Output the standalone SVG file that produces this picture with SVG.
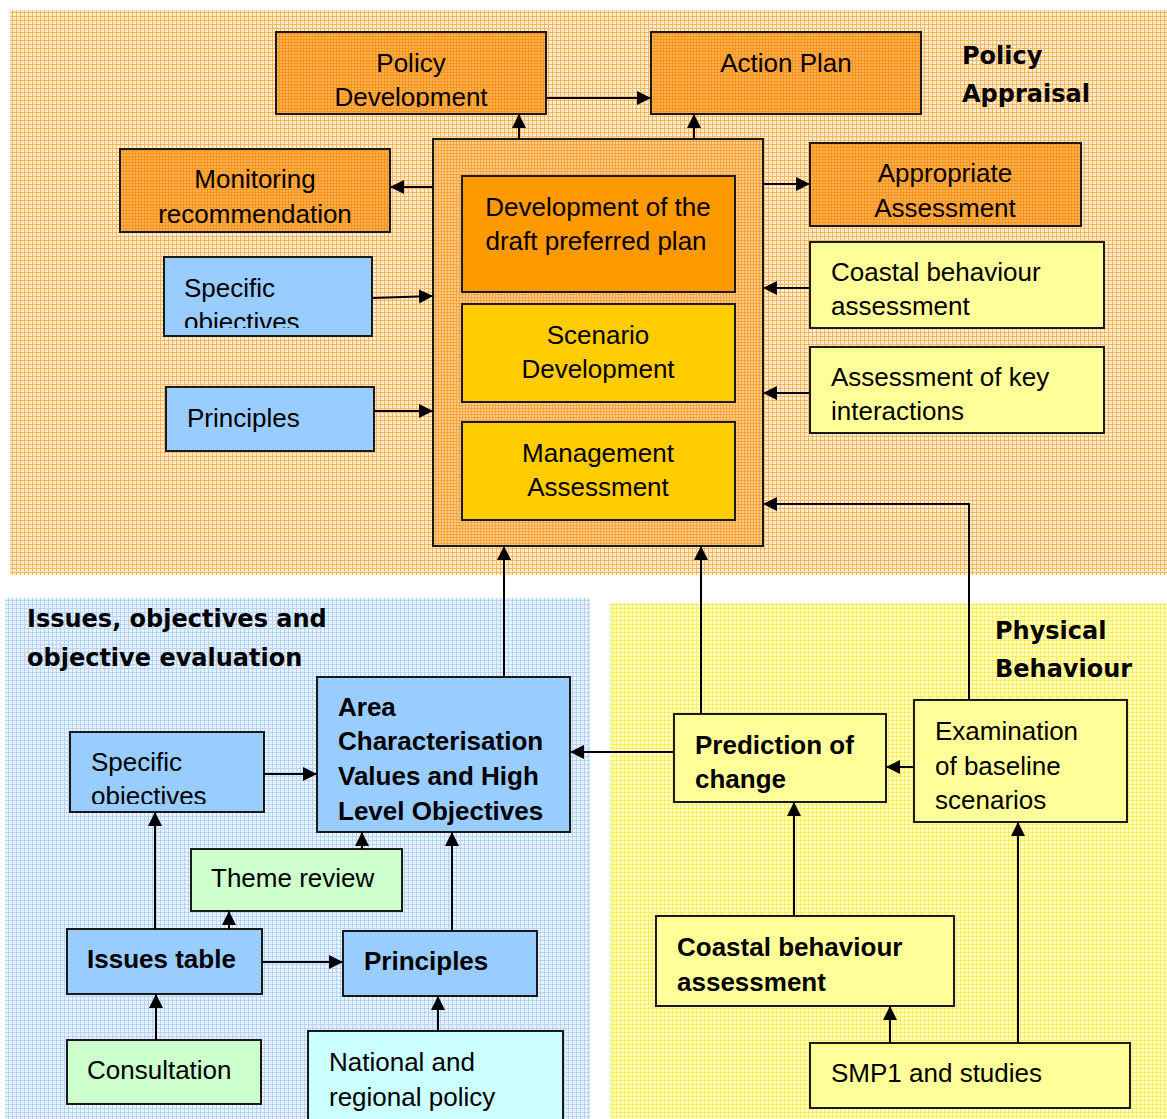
<svg xmlns="http://www.w3.org/2000/svg" width="1167" height="1119" viewBox="0 0 1167 1119">
<style>
.t{font-family:"Liberation Sans",Arial,sans-serif;font-size:26px;fill:#000}
.b{font-weight:bold}
.m{text-anchor:middle}
.lab{font-family:"DejaVu Sans",sans-serif;font-weight:bold;font-size:24px;fill:#000}
.bx{stroke:#1a1a1a;stroke-width:2}
.c{fill:none;stroke:#000;stroke-width:2;marker-end:url(#ah)}
</style>
<defs>
<marker id="ah" markerUnits="userSpaceOnUse" markerWidth="15" markerHeight="15" refX="14" refY="7" orient="auto">
<path d="M0,0 L14,7 L0,14 Z" fill="#000"/>
</marker>
<pattern id="pBgO" width="4" height="4" patternUnits="userSpaceOnUse"><rect width="4" height="4" fill="#FFEBD0"/><path d="M0 0.5H4M0.5 0V4" stroke="#FBB65A" stroke-width="1"/></pattern>
<pattern id="pBgB" width="4" height="4" patternUnits="userSpaceOnUse"><rect width="4" height="4" fill="#E8F2FE"/><path d="M0 0.5H4M0.5 0V4" stroke="#B6D5F6" stroke-width="1"/></pattern>
<pattern id="pBgY" width="4" height="4" patternUnits="userSpaceOnUse"><rect width="4" height="4" fill="#FFFFC0"/><path d="M0 0.5H4M0.5 0V4" stroke="#FFEE5C" stroke-width="1"/></pattern>
<pattern id="pBoxO" width="3" height="3" patternUnits="userSpaceOnUse"><rect width="3" height="3" fill="#FAB04E"/><path d="M0 0.5H3M0.5 0V3" stroke="#F7951F" stroke-width="1"/></pattern>
<pattern id="pCont" width="3" height="3" patternUnits="userSpaceOnUse"><rect width="3" height="3" fill="#FDCB88"/><path d="M0 0.5H3M0.5 0V3" stroke="#F9A53E" stroke-width="1"/></pattern>
<clipPath id="cPD"><rect x="276" y="32" width="270" height="75"/></clipPath>
<clipPath id="cMR"><rect x="120" y="149" width="270" height="74"/></clipPath>
<clipPath id="cAA"><rect x="810" y="143" width="271" height="74"/></clipPath>
<clipPath id="cSO1"><rect x="164" y="257" width="208" height="71"/></clipPath>
<clipPath id="cSO2"><rect x="70" y="732" width="194" height="72"/></clipPath>
</defs>

<g id="backgrounds">
<rect x="10" y="10" width="1157" height="565" fill="url(#pBgO)"/>
<rect x="5" y="598" width="585" height="521" fill="url(#pBgB)"/>
<rect x="610" y="603" width="557" height="516" fill="url(#pBgY)"/>
</g>

<g id="labels">
<text class="lab" x="962" y="64">Policy</text>
<text class="lab" x="962" y="102">Appraisal</text>
<text class="lab" x="27" y="627">Issues, objectives and</text>
<text class="lab" x="27" y="666">objective evaluation</text>
<text class="lab" x="995" y="639">Physical</text>
<text class="lab" x="995" y="677">Behaviour</text>
</g>

<g id="policy-development">
<rect class="bx" x="276" y="32" width="270" height="82" fill="url(#pBoxO)"/>
<g clip-path="url(#cPD)"><text class="t m" x="411" y="72">Policy</text><text class="t m" x="411" y="106">Development</text></g>
</g>
<g id="action-plan">
<rect class="bx" x="651" y="32" width="270" height="82" fill="url(#pBoxO)"/>
<text class="t m" x="786" y="72">Action Plan</text>
</g>
<g id="monitoring">
<rect class="bx" x="120" y="149" width="270" height="83" fill="url(#pBoxO)"/>
<g clip-path="url(#cMR)"><text class="t m" x="255" y="188">Monitoring</text><text class="t m" x="255" y="223">recommendation</text></g>
</g>
<g id="appropriate-assessment">
<rect class="bx" x="810" y="143" width="271" height="83" fill="url(#pBoxO)"/>
<g clip-path="url(#cAA)"><text class="t m" x="945" y="182">Appropriate</text><text class="t m" x="945" y="217">Assessment</text></g>
</g>
<g id="container">
<rect class="bx" x="433" y="139" width="330" height="407" fill="url(#pCont)"/>
</g>
<g id="draft-plan">
<rect class="bx" x="462" y="176" width="273" height="116" fill="#FF9900"/>
<text class="t m" x="598" y="216">Development of the</text>
<text class="t m" x="596" y="250">draft preferred plan</text>
</g>
<g id="scenario-development">
<rect class="bx" x="462" y="304" width="273" height="98" fill="#FFCC00"/>
<text class="t m" x="598" y="344">Scenario</text>
<text class="t m" x="598" y="378">Development</text>
</g>
<g id="management-assessment">
<rect class="bx" x="462" y="422" width="273" height="98" fill="#FFCC00"/>
<text class="t m" x="598" y="462">Management</text>
<text class="t m" x="598" y="496">Assessment</text>
</g>
<g id="coastal-top">
<rect class="bx" x="810" y="242" width="294" height="86" fill="#FFFF99"/>
<text class="t" x="831" y="281">Coastal behaviour</text>
<text class="t" x="831" y="315">assessment</text>
</g>
<g id="key-interactions">
<rect class="bx" x="810" y="347" width="294" height="86" fill="#FFFF99"/>
<text class="t" x="831" y="386">Assessment of key</text>
<text class="t" x="831" y="420">interactions</text>
</g>
<g id="specific-top">
<rect class="bx" x="164" y="257" width="208" height="79" fill="#99CCFF"/>
<g clip-path="url(#cSO1)"><text class="t" x="184" y="297">Specific</text><text class="t" x="184" y="331">objectives</text></g>
</g>
<g id="principles-top">
<rect class="bx" x="166" y="387" width="208" height="64" fill="#99CCFF"/>
<text class="t" x="187" y="427">Principles</text>
</g>

<g id="area-characterisation">
<rect class="bx" x="317" y="677" width="253" height="155" fill="#99CCFF"/>
<text class="t b" x="338" y="716">Area</text>
<text class="t b" x="338" y="750">Characterisation</text>
<text class="t b" x="338" y="785">Values and High</text>
<text class="t b" x="338" y="820">Level Objectives</text>
</g>
<g id="specific-bottom">
<rect class="bx" x="70" y="732" width="194" height="80" fill="#99CCFF"/>
<g clip-path="url(#cSO2)"><text class="t" x="91" y="771">Specific</text><text class="t" x="91" y="805">objectives</text></g>
</g>
<g id="theme-review">
<rect class="bx" x="191" y="849" width="211" height="62" fill="#CCFFCC"/>
<text class="t" x="211" y="887">Theme review</text>
</g>
<g id="issues-table">
<rect class="bx" x="67" y="929" width="195" height="65" fill="#99CCFF"/>
<text class="t b" x="87" y="968">Issues table</text>
</g>
<g id="principles-bottom">
<rect class="bx" x="343" y="931" width="194" height="65" fill="#99CCFF"/>
<text class="t b" x="364" y="970">Principles</text>
</g>
<g id="consultation">
<rect class="bx" x="67" y="1040" width="194" height="64" fill="#CCFFCC"/>
<text class="t" x="87" y="1079">Consultation</text>
</g>
<g id="national-policy">
<rect class="bx" x="308" y="1031" width="255" height="100" fill="#CCFFFF"/>
<text class="t" x="329" y="1071">National and</text>
<text class="t" x="329" y="1106">regional policy</text>
</g>

<g id="prediction">
<rect class="bx" x="674" y="714" width="212" height="88" fill="#FFFF99"/>
<text class="t b" x="695" y="754">Prediction of</text>
<text class="t b" x="695" y="788">change</text>
</g>
<g id="examination">
<rect class="bx" x="914" y="700" width="213" height="122" fill="#FFFF99"/>
<text class="t" x="935" y="740">Examination</text>
<text class="t" x="935" y="775">of baseline</text>
<text class="t" x="935" y="809">scenarios</text>
</g>
<g id="coastal-bottom">
<rect class="bx" x="656" y="916" width="298" height="90" fill="#FFFF99"/>
<text class="t b" x="677" y="956">Coastal behaviour</text>
<text class="t b" x="677" y="991">assessment</text>
</g>
<g id="smp1">
<rect class="bx" x="810" y="1043" width="320" height="65" fill="#FFFF99"/>
<text class="t" x="831" y="1082">SMP1 and studies</text>
</g>

<g id="connectors">
<path class="c" d="M546 98H651"/>
<path class="c" d="M519 139V114"/>
<path class="c" d="M694 139V114"/>
<path class="c" d="M433 187H390"/>
<path class="c" d="M763 184H810"/>
<path class="c" d="M373 298L433 296"/>
<path class="c" d="M374 411H433"/>
<path class="c" d="M810 288H763"/>
<path class="c" d="M810 393H763"/>
<path class="c" d="M969 700V504H763"/>
<path class="c" d="M504 677V546"/>
<path class="c" d="M701 714V546"/>
<path class="c" d="M674 752H570"/>
<path class="c" d="M914 767H886"/>
<path class="c" d="M794 916V802"/>
<path class="c" d="M890 1043V1006"/>
<path class="c" d="M1018 1043V822"/>
<path class="c" d="M264 774H317"/>
<path class="c" d="M362 849V832"/>
<path class="c" d="M155 929V812"/>
<path class="c" d="M229 929V911"/>
<path class="c" d="M262 962H343"/>
<path class="c" d="M452 931V832"/>
<path class="c" d="M156 1040V994"/>
<path class="c" d="M438 1031V996"/>
</g>
</svg>
